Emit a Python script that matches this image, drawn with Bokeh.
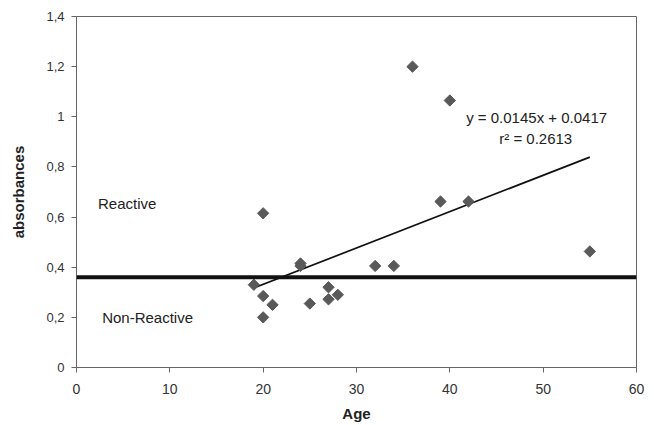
from bokeh.plotting import figure
from bokeh.models import Range1d, FixedTicker, CustomJSTickFormatter, Span, Label, ColumnDataSource
from bokeh.embed import file_html
from bokeh.resources import INLINE
import math

# ---- data ----
age = [19, 20, 20, 20, 21, 24, 24, 25, 27, 27, 28, 32, 34, 36, 39, 40, 42, 55]
absorbance = [0.330, 0.615, 0.285, 0.200, 0.250, 0.415, 0.405, 0.255, 0.320, 0.272,
              0.290, 0.405, 0.405, 1.200, 0.662, 1.065, 0.662, 0.463]
slope = 0.0145
intercept = 0.0417
r_squared = 0.2613
cutoff = 0.36

x_ticks = [0, 10, 20, 30, 40, 50, 60]
y_ticks = [0, 0.2, 0.4, 0.6, 0.8, 1.0, 1.2, 1.4]
y_tick_labels = ["0", "0,2", "0,4", "0,6", "0,8", "1", "1,2", "1,4"]

FONT = "Liberation Sans"

p = figure(width=654, height=425, output_backend="svg", toolbar_location=None,
           x_range=Range1d(0, 60), y_range=Range1d(0, 1.4),
           min_border_left=76, min_border_right=18, min_border_top=16, min_border_bottom=58)
p.grid.visible = False
p.outline_line_color = "#666666"
p.outline_line_width = 1
p.background_fill_color = "white"
p.border_fill_color = "white"

# axes
for ax in (p.xaxis[0], p.yaxis[0]):
    ax.axis_line_color = "#666666"
    ax.major_tick_line_color = "#666666"
    ax.major_tick_out = 5
    ax.major_tick_in = 0
    ax.minor_tick_line_color = None
    ax.major_label_text_font = FONT
    ax.major_label_text_color = "#333333"
    ax.axis_label_text_font = FONT
    ax.axis_label_text_font_style = "bold"
    ax.axis_label_text_font_size = "15px"
    ax.axis_label_text_color = "#222222"

p.xaxis.ticker = FixedTicker(ticks=x_ticks)
p.xaxis.major_label_text_font_size = "14px"
p.xaxis.major_label_standoff = 11
p.xaxis.axis_label = "Age"
p.xaxis.axis_label_standoff = 8

p.yaxis.ticker = FixedTicker(ticks=y_ticks)
p.yaxis.formatter = CustomJSTickFormatter(
    args=dict(vals=y_ticks, labs=y_tick_labels),
    code="""
    for (let i = 0; i < vals.length; i++) {
        if (Math.abs(vals[i] - tick) < 1e-9) return labs[i];
    }
    return tick.toString().replace('.', ',');
    """)
p.yaxis.major_label_text_font_size = "13px"
p.yaxis.major_label_standoff = 7
p.yaxis.axis_label = "absorbances"
p.yaxis.axis_label_standoff = 16

# cutoff line
p.add_layout(Span(location=cutoff, dimension="width", line_color="#111111", line_width=4))

# trend line
tx = [min(age), max(age)]
ty = [slope * v + intercept for v in tx]
p.line(tx, ty, line_color="#111111", line_width=1.7)

# points
src = ColumnDataSource(dict(x=age, y=absorbance))
p.scatter("x", "y", source=src, marker="square", angle=math.pi / 4, size=8,
          fill_color="#595959", line_color="#595959")

# annotations
eq1 = "y = %.4fx + %.4f" % (slope, intercept)
eq2 = "r\u00b2 = %.4f" % r_squared
p.add_layout(Label(x=49.3, y=0.998, text=eq1, text_align="center", text_baseline="middle",
                   text_font=FONT, text_font_size="15px", text_color="#222222"))
p.add_layout(Label(x=49.2, y=0.915, text=eq2, text_align="center", text_baseline="middle",
                   text_font=FONT, text_font_size="15px", text_color="#222222"))
p.add_layout(Label(x=2.3, y=0.655, text="Reactive", text_align="left", text_baseline="middle",
                   text_font=FONT, text_font_size="15px", text_color="#222222"))
p.add_layout(Label(x=2.75, y=0.2, text="Non-Reactive", text_align="left", text_baseline="middle",
                   text_font=FONT, text_font_size="15px", text_color="#222222"))

open("out.html", "w").write(file_html(p, INLINE))
